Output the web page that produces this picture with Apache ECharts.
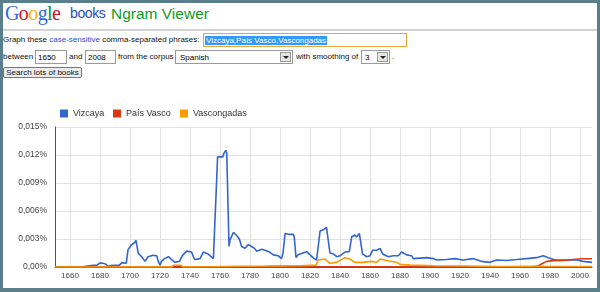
<!DOCTYPE html>
<html>
<head>
<meta charset="utf-8">
<script src="https://cdn.jsdelivr.net/npm/echarts@6/dist/echarts.min.js"></script>
<style>
  html, body { margin:0; padding:0; }
  body { width:600px; height:292px; background:#5b7e8d; position:relative; overflow:hidden; font-family:"Liberation Sans", Arial, sans-serif; }
  #page { position:absolute; left:3px; top:3px; width:594px; height:285px; background:#fff; }
  .abs { position:absolute; white-space:nowrap; }
  #logo { left:5px; top:2px; font-family:"Liberation Serif", serif; font-size:20px; letter-spacing:-0.6px; }
  #books { left:70px; top:5px; font-size:14px; letter-spacing:-0.4px; color:#2a4bb5; }
  #ngram { left:111px; top:5px; font-size:15.5px; color:#129a1e; }
  #hr { left:3px; top:29px; width:594px; height:2px; background:#d3d3d3; }
  .t { font-size:8px; color:#111; }
  .inp { border:1px solid #9a9a9a; background:#fff; box-sizing:border-box; font-size:8px; }
  #chart { position:absolute; left:0; top:0; width:600px; height:292px; }
</style>
</head>
<body>
<div id="page"></div>
<div class="abs" id="logo"><span style="color:#3369e8">G</span><span style="color:#d50f25">o</span><span style="color:#eeb211">o</span><span style="color:#3369e8">g</span><span style="color:#009925">l</span><span style="color:#d50f25">e</span></div>
<div class="abs" id="books">books</div>
<div class="abs" id="ngram">Ngram Viewer</div>
<div class="abs" id="hr"></div>

<div class="abs t" style="left:3px;top:35px;">Graph these <span style="color:#2a4bd0">case-sensitive</span> comma-separated phrases:</div>
<div class="abs inp" style="left:203px;top:33px;width:204px;height:14px;border:1px solid #e8a33a;">
  <span class="abs" style="left:1px;top:2px;height:9px;line-height:9px;background:#3399ff;color:#fff;font-size:8px;padding:0 1px;">Vizcaya,País Vasco,Vascongadas</span>
</div>

<div class="abs t" style="left:3px;top:52px;">between</div>
<div class="abs inp" style="left:35px;top:50px;width:32px;height:14px;"><span class="abs" style="left:2px;top:2px;">1650</span></div>
<div class="abs t" style="left:69px;top:52px;">and</div>
<div class="abs inp" style="left:85px;top:50px;width:31px;height:14px;"><span class="abs" style="left:2px;top:2px;">2008</span></div>
<div class="abs t" style="left:118px;top:52px;">from the corpus</div>
<div class="abs inp" style="left:175px;top:50px;width:118px;height:14px;"><span class="abs" style="left:4px;top:2px;">Spanish</span>
  <span class="abs" style="left:104px;top:1px;width:11px;height:10px;background:#e4e4e4;border:1px solid #9a9a9a;box-sizing:border-box;"></span>
  <span class="abs" style="left:107px;top:5px;width:0;height:0;border-left:3px solid transparent;border-right:3px solid transparent;border-top:3px solid #222;"></span>
</div>
<div class="abs t" style="left:296px;top:52px;">with smoothing of</div>
<div class="abs inp" style="left:361px;top:50px;width:29px;height:14px;"><span class="abs" style="left:3px;top:2px;">3</span>
  <span class="abs" style="left:15px;top:1px;width:11px;height:10px;background:#e4e4e4;border:1px solid #9a9a9a;box-sizing:border-box;"></span>
  <span class="abs" style="left:18px;top:5px;width:0;height:0;border-left:3px solid transparent;border-right:3px solid transparent;border-top:3px solid #222;"></span>
</div>
<div class="abs t" style="left:392px;top:52px;">.</div>

<div class="abs" style="left:3px;top:67px;width:79px;height:11px;border:1px solid #777;border-radius:2px;background:#ececec;box-sizing:border-box;font-size:8px;line-height:9px;text-align:center;color:#111;">Search lots of books</div>

<div id="chart"></div>
<script>
// ---- data (values in percent) ----
var seriesNames = ['Vizcaya', 'País Vasco', 'Vascongadas'];
var xTickYears = [1660,1680,1700,1720,1740,1760,1780,1800,1820,1840,1860,1880,1900,1920,1940,1960,1980,2000];

var vizcayaYears = [1650,1667,1668,1674,1678,1680,1682,1684,1685.5,1687,1693,1694.6,1695.7,1697.5,1698.7,1699.7,1700.8,1701.9,1703,1704,1705.5,1707.8,1710,1712,1715.5,1717.8,1718.9,1720,1721,1723,1725.6,1727.8,1730,1733,1735,1737.8,1741,1743,1746.7,1748.9,1752,1755.6,1756.5,1758.4,1761.8,1762.7,1763.8,1764.5,1766,1766.7,1768.9,1771,1772.9,1774.4,1776.7,1778.9,1781,1783,1784.4,1787.8,1790,1793,1795.6,1798.9,1801,1802,1803.4,1805.6,1808.9,1809.5,1810.7,1812,1813.3,1817.8,1818.9,1822,1824.4,1826.7,1828.9,1831,1833.3,1835.5,1837.8,1840,1843.3,1846.2,1847.8,1848.9,1850,1851,1852.9,1853.8,1855,1857.8,1860,1861.8,1864.4,1866.7,1868.4,1872.2,1875.5,1878.9,1881,1884.4,1887.8,1888.9,1897.8,1902.2,1904.4,1911,1916.7,1922,1928.9,1934.4,1940,1944.4,1951,1957.8,1964.4,1971,1975.5,1978.9,1983.3,1991,1997.8,2002.2,2008];
var vizcayaValues = [0,0,0.00011,0.00015,0.0002,0.00043,0.0004,0.0003,0.00005,0.00015,0.0002,0.00047,0.0003,0.0004,0.00186,0.0020,0.00236,0.0023,0.0026,0.00286,0.00146,0.0011,0.0006,0.0011,0.00125,0.0012,0.0006,0.0002,0.0006,0.0009,0.0011,0.0008,0.0005,0.0006,0.00125,0.0017,0.0016,0.0008,0.0009,0.0016,0.0014,0.0009,0.00085,0.0118,0.0118,0.0122,0.0125,0.0122,0.0022,0.0029,0.0037,0.0034,0.0030,0.0022,0.0020,0.0024,0.0022,0.0020,0.0017,0.0019,0.0018,0.0016,0.0013,0.0012,0.0009,0.0015,0.0036,0.0035,0.0035,0.0032,0.0010,0.0013,0.00146,0.00164,0.0016,0.0010,0.00075,0.00386,0.0040,0.00425,0.0015,0.0014,0.0011,0.0012,0.0016,0.00165,0.00325,0.0031,0.00343,0.0032,0.0036,0.0034,0.0014,0.0011,0.0012,0.0018,0.0018,0.0020,0.0014,0.0011,0.0012,0.0012,0.0016,0.0013,0.0012,0.0009,0.0010,0.0009,0.00075,0.0008,0.0009,0.00075,0.0009,0.0006,0.0005,0.00075,0.0007,0.0008,0.0009,0.0010,0.0012,0.0010,0.00075,0.00075,0.00075,0.0006,0.0005];

var paisVascoYears = [1650,1727.5,1729,1734,1735.5,1800,1815,1900,1968,1972,1974,1977.8,1982,1988.9,1995.5,2001,2008];
var paisVascoValues = [0,0,0.00008,0.00008,0,0.00002,0.00003,0.00002,0.00003,0.0001,0.0003,0.0006,0.00068,0.0007,0.0008,0.00088,0.00088];

var vascongadasYears = [1650,1727.5,1729,1734,1735.5,1755,1770,1790,1800,1813,1824,1825.5,1830,1831,1833.3,1837.8,1843.3,1846.7,1850,1855.5,1861,1864.4,1866.7,1871,1877.8,1880,1886.7,1902,1924,1946,1969,1991,2008];
var vascongadasValues = [0,0,0.00018,0.00018,0,0.00003,0.00008,0.0001,0.00012,0.00014,0.0002,0.00075,0.00085,0.0008,0.0004,0.0005,0.0010,0.00085,0.0005,0.0005,0.0006,0.0005,0.00085,0.0007,0.0005,0.0003,0.0002,0.00014,0.0001,0.00005,0.00007,0.00005,0.00005];

function pairs(xs, ys) { return xs.map(function (x, i) { return [x, ys[i]]; }); }

var colors = ['#3366cc', '#dc3912', '#ff9900'];
var chart = echarts.init(document.getElementById('chart'), null, { renderer: 'canvas' });

function legendFor(i, left) {
  return {
    data: [seriesNames[i]], left: left, top: 104, icon: 'rect', itemWidth: 8, itemHeight: 8,
    textStyle: { fontSize: 9, color: '#333', fontFamily: 'Liberation Sans' }, selectedMode: false
  };
}

chart.setOption({
  backgroundColor: 'transparent',
  animation: false,
  color: colors,
  legend: [legendFor(0, 55), legendFor(1, 108), legendFor(2, 175)],
  grid: { left: 55, right: 8, top: 127, bottom: 25 },
  xAxis: {
    type: 'value', min: 1650, max: 2008,
    axisLine: { show: true, lineStyle: { color: '#555' } },
    axisTick: { show: false, customValues: xTickYears },
    axisLabel: { customValues: xTickYears, fontSize: 8, color: '#444', margin: 5, fontFamily: 'Liberation Sans',
      formatter: function (v) { return String(Math.round(v)); } },
    splitLine: { show: true, lineStyle: { color: '#e2e2e2', width: 1 } }
  },
  yAxis: {
    type: 'value', min: 0, max: 0.015, interval: 0.003,
    axisLine: { show: true, lineStyle: { color: '#555' } },
    axisTick: { show: false },
    axisLabel: {
      fontSize: 8.5, color: '#444', margin: 8, fontFamily: 'Liberation Sans',
      formatter: function (v) { return v === 0 ? '0,00%' : v.toFixed(3).replace('.', ',') + '%'; }
    },
    splitLine: { show: true, lineStyle: { color: '#e2e2e2', width: 1 } }
  },
  series: [
    { name: seriesNames[0], type: 'line', data: pairs(vizcayaYears, vizcayaValues), showSymbol: false, lineStyle: { width: 1.6 }, z: 2 },
    { name: seriesNames[1], type: 'line', data: pairs(paisVascoYears, paisVascoValues), showSymbol: false, lineStyle: { width: 1.6 }, z: 3 },
    { name: seriesNames[2], type: 'line', data: pairs(vascongadasYears, vascongadasValues), showSymbol: false, lineStyle: { width: 1.6 }, z: 4 }
  ]
});
</script>
</body>
</html>
